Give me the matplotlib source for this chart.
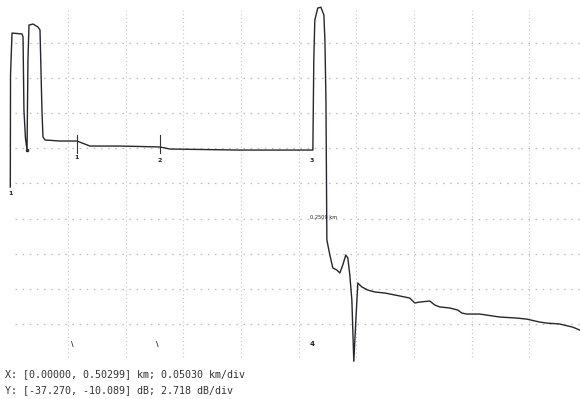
import matplotlib
matplotlib.use("Agg")
import matplotlib.pyplot as plt

# OTDR trace (distance km, level dB)
dist_km = [0.0000, 0.0002, 0.0015, 0.0102, 0.0111, 0.0119, 0.0132, 0.0146,
           0.0154, 0.0163, 0.0198, 0.0241, 0.0259, 0.0276, 0.0285, 0.0303,
           0.0433, 0.0581, 0.0625, 0.0695, 0.0957, 0.1305, 0.1349, 0.1392,
           0.2002, 0.2630, 0.2639, 0.2647, 0.2656, 0.2682, 0.2709, 0.2735,
           0.2744, 0.2753, 0.2761, 0.2787, 0.2813, 0.2848, 0.2874, 0.2900,
           0.2926, 0.2944, 0.2961, 0.2979, 0.2996, 0.3014, 0.3031, 0.3066,
           0.3118, 0.3179, 0.3266, 0.3397, 0.3484, 0.3528, 0.3571, 0.3659,
           0.3702, 0.3746, 0.3833, 0.3903, 0.3938, 0.3981, 0.4095, 0.4269,
           0.4417, 0.4504, 0.4618, 0.4679, 0.4791, 0.4905, 0.4966]
level_db = [-23.95, -15.28, -12.03, -12.10, -12.33, -17.99, -20.16, -21.09,
            -14.12, -11.41, -11.33, -11.56, -11.79, -17.99, -20.08, -20.31,
            -20.39, -20.39, -20.54, -20.78, -20.78, -20.85, -20.93, -21.01,
            -21.09, -21.09, -21.09, -14.12, -11.02, -10.09, -10.03, -10.63,
            -12.57, -17.21, -28.05, -29.22, -30.22, -30.38, -30.61, -29.99,
            -29.22, -29.45, -30.76, -32.70, -37.45, -34.25, -31.39, -31.69,
            -31.93, -32.08, -32.16, -32.39, -32.55, -32.93, -32.86, -32.78,
            -33.09, -33.24, -33.32, -33.48, -33.71, -33.79, -33.79, -34.02,
            -34.10, -34.18, -34.41, -34.49, -34.56, -34.80, -35.03]

x_min, x_max, x_div = 0.00000, 0.50299, 0.05030
y_min, y_max, y_div = -37.270, -10.089, 2.718

# event markers
event_labels = ["1", "1", "2", "3"]
event_x = [0.0000, 0.0581, 0.1305, 0.2630]
event_y = [-24.42, -21.63, -21.86, -21.86]
bottom_labels = ["\\", "\\", "4"]
bottom_x = [0.0538, 0.1279, 0.2630]
bottom_y = -36.11
cursor_label = "0.2509 km"
cursor_x, cursor_y = 0.2613, -26.35

fig = plt.figure(figsize=(5.8, 3.99), dpi=100)
ax = fig.add_axes([10.3 / 580, 40 / 399, 576.7 / 580, 351 / 399])
ax.set_xlim(x_min, x_max)
ax.set_ylim(y_min, y_max)
for s in ax.spines.values():
    s.set_visible(False)
ax.set_xticks([])
ax.set_yticks([])

# dotted grid
for k in range(1, 10):
    xv = x_min + k * x_div
    ax.plot([xv, xv], [y_min + 0.15, y_max - 0.15], color="#c4c4c4", lw=0.8,
            linestyle=(0, (1, 2.5)), zorder=1)
    yv = y_max - k * y_div
    ax.plot([x_min + 0.004, x_max], [yv, yv], color="#b8b8b8", lw=0.9,
            linestyle=(0, (1.2, 4.5)), zorder=1)

# trace
ax.plot(dist_km, level_db, color="#26262e", lw=1.0, clip_on=False, zorder=3)

# event markers
for lab, ex, ey in zip(event_labels, event_x, event_y):
    ax.text(ex, ey, lab, fontsize=4.5, ha="center", va="center",
            color="#222222", fontweight="bold", zorder=4)
for ex in event_x[1:3]:
    ax.plot([ex, ex], [-19.9, -21.3], color="#333333", lw=0.8, zorder=4)
ax.plot([0.0146], [-21.09], marker="s", ms=2, color="#333333", zorder=4)
for lab, bx in zip(bottom_labels, bottom_x):
    ax.text(bx, bottom_y, lab, fontsize=5, ha="center", va="center",
            color="#222222", fontweight="bold", zorder=4)
ax.text(cursor_x, cursor_y, cursor_label, fontsize=3.6, ha="left", va="center",
        color="#222222", zorder=4)

fig.text(5 / 580, 1 - 377 / 399,
         f"X: [{x_min:.5f}, {x_max:.5f}] km; {x_div:.5f} km/div",
         fontsize=7.2, family="DejaVu Sans Mono", color="#333333", va="baseline")
fig.text(5 / 580, 1 - 393 / 399,
         f"Y: [{y_min:.3f}, {y_max:.3f}] dB; {y_div:.3f} dB/div",
         fontsize=7.2, family="DejaVu Sans Mono", color="#333333", va="baseline")

fig.savefig("out.png", dpi=100)
